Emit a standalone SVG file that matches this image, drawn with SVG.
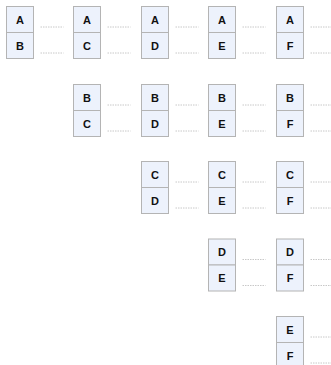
<svg xmlns="http://www.w3.org/2000/svg" width="331" height="365" viewBox="0 0 331 365">
<style>
.c{fill:#edf2fc;stroke:#b4b4b4;stroke-width:1}
.t{font-family:"Liberation Sans",Arial,sans-serif;font-size:11px;font-weight:bold;fill:#111;text-anchor:middle}
.d{stroke:#c8c8c8;stroke-width:1;stroke-dasharray:1.5,1;fill:none}
</style>
<defs>
<g id="stub"><path class="d" d="M7,20.5H30M7,46.5H30"/></g>
</defs>
<rect width="331" height="365" fill="#fff"/>
<g id="nodes">
<g id="n-AB" transform="translate(6.5,6.5)"><rect class="c" width="27" height="26"/><rect class="c" y="26" width="27" height="26"/><text class="t" x="13.5" y="17">A</text><text class="t" x="13.5" y="43">B</text></g>
<g id="n-AC" transform="translate(73.5,6.5)"><rect class="c" width="27" height="26"/><rect class="c" y="26" width="27" height="26"/><text class="t" x="13.5" y="17">A</text><text class="t" x="13.5" y="43">C</text></g>
<g id="n-AD" transform="translate(141.5,6.5)"><rect class="c" width="27" height="26"/><rect class="c" y="26" width="27" height="26"/><text class="t" x="13.5" y="17">A</text><text class="t" x="13.5" y="43">D</text></g>
<g id="n-AE" transform="translate(208.5,6.5)"><rect class="c" width="27" height="26"/><rect class="c" y="26" width="27" height="26"/><text class="t" x="13.5" y="17">A</text><text class="t" x="13.5" y="43">E</text></g>
<g id="n-AF" transform="translate(276.5,6.5)"><rect class="c" width="27" height="26"/><rect class="c" y="26" width="27" height="26"/><text class="t" x="13.5" y="17">A</text><text class="t" x="13.5" y="43">F</text></g>
<g id="n-BC" transform="translate(73.5,84.5)"><rect class="c" width="27" height="26"/><rect class="c" y="26" width="27" height="26"/><text class="t" x="13.5" y="17">B</text><text class="t" x="13.5" y="43">C</text></g>
<g id="n-BD" transform="translate(141.5,84.5)"><rect class="c" width="27" height="26"/><rect class="c" y="26" width="27" height="26"/><text class="t" x="13.5" y="17">B</text><text class="t" x="13.5" y="43">D</text></g>
<g id="n-BE" transform="translate(208.5,84.5)"><rect class="c" width="27" height="26"/><rect class="c" y="26" width="27" height="26"/><text class="t" x="13.5" y="17">B</text><text class="t" x="13.5" y="43">E</text></g>
<g id="n-BF" transform="translate(276.5,84.5)"><rect class="c" width="27" height="26"/><rect class="c" y="26" width="27" height="26"/><text class="t" x="13.5" y="17">B</text><text class="t" x="13.5" y="43">F</text></g>
<g id="n-CD" transform="translate(141.5,161.5)"><rect class="c" width="27" height="26"/><rect class="c" y="26" width="27" height="26"/><text class="t" x="13.5" y="17">C</text><text class="t" x="13.5" y="43">D</text></g>
<g id="n-CE" transform="translate(208.5,161.5)"><rect class="c" width="27" height="26"/><rect class="c" y="26" width="27" height="26"/><text class="t" x="13.5" y="17">C</text><text class="t" x="13.5" y="43">E</text></g>
<g id="n-CF" transform="translate(276.5,161.5)"><rect class="c" width="27" height="26"/><rect class="c" y="26" width="27" height="26"/><text class="t" x="13.5" y="17">C</text><text class="t" x="13.5" y="43">F</text></g>
<g id="n-DE" transform="translate(208.5,239)"><rect class="c" width="27" height="26"/><rect class="c" y="26" width="27" height="26"/><text class="t" x="13.5" y="17">D</text><text class="t" x="13.5" y="43">E</text></g>
<g id="n-DF" transform="translate(276.5,239)"><rect class="c" width="27" height="26"/><rect class="c" y="26" width="27" height="26"/><text class="t" x="13.5" y="17">D</text><text class="t" x="13.5" y="43">F</text></g>
<g id="n-EF" transform="translate(276.5,316.5)"><rect class="c" width="27" height="26"/><rect class="c" y="26" width="27" height="26"/><text class="t" x="13.5" y="17">E</text><text class="t" x="13.5" y="43">F</text></g>
</g>
<g id="connectors">
<use href="#stub" x="33.5" y="6.5"/>
<use href="#stub" x="100.5" y="6.5"/>
<use href="#stub" x="168.5" y="6.5"/>
<use href="#stub" x="235.5" y="6.5"/>
<use href="#stub" x="303.5" y="6.5"/>
<use href="#stub" x="100.5" y="84.5"/>
<use href="#stub" x="168.5" y="84.5"/>
<use href="#stub" x="235.5" y="84.5"/>
<use href="#stub" x="303.5" y="84.5"/>
<use href="#stub" x="168.5" y="161.5"/>
<use href="#stub" x="235.5" y="161.5"/>
<use href="#stub" x="303.5" y="161.5"/>
<use href="#stub" x="235.5" y="239"/>
<use href="#stub" x="303.5" y="239"/>
<use href="#stub" x="303.5" y="316.5"/>
</g>
</svg>
